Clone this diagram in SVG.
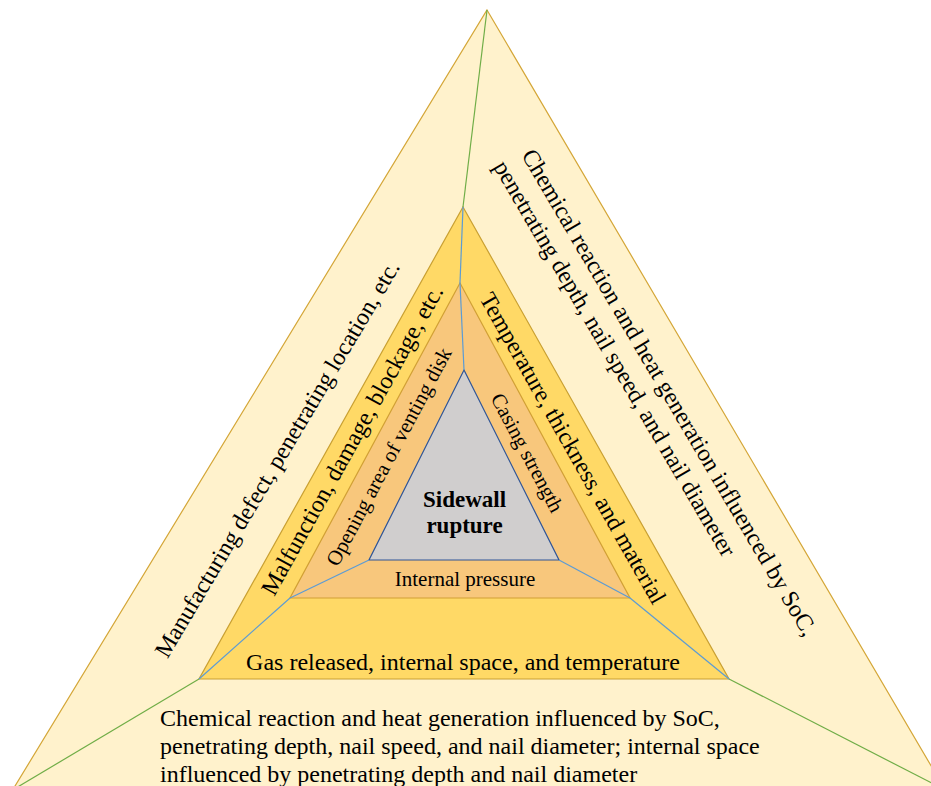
<svg xmlns="http://www.w3.org/2000/svg" width="931" height="786" viewBox="0 0 931 786">
<style>
.t{font-family:"Liberation Serif","Times New Roman",serif;fill:#000;}
.b{font-weight:bold;}
.outer{fill:#FFF2CC;stroke:#D4A637;stroke-width:1.2;}
.band1{fill:#FFD966;stroke:#C9A032;stroke-width:1.2;}
.band2{fill:#F8C77C;stroke:#D1A035;stroke-width:1.2;}
.core{fill:#D0CECE;stroke:#2F5597;stroke-width:1.2;}
.g{stroke:#70AD47;stroke-width:1.2;fill:none;}
.bl{stroke:#5B9BD5;stroke-width:1.2;fill:none;}
</style>
<rect width="931" height="786" fill="#FFFFFF"/>
<g id="outer">
<polygon class="outer" points="487,10 945.3,790 12.6,790"/>
<text class="t" font-size="24" text-anchor="middle" transform="translate(284,463) rotate(-59.3)">Manufacturing defect, penetrating location, etc.</text>
<text class="t" font-size="24" transform="translate(521,155) rotate(59.6)">Chemical reaction and heat generation influenced by SoC,</text>
<text class="t" font-size="24" transform="translate(493,166.5) rotate(59.6)">penetrating depth, nail speed, and nail diameter</text>
<text class="t" font-size="24" x="160" y="726">Chemical reaction and heat generation influenced by SoC,</text>
<text class="t" font-size="24" x="160" y="754">penetrating depth, nail speed, and nail diameter; internal space</text>
<text class="t" font-size="24" x="160" y="782">influenced by penetrating depth and nail diameter</text>
</g>
<g id="band1">
<polygon class="band1" points="463,207 729,679 199,679"/>
<text class="t" font-size="24" text-anchor="middle" transform="translate(359,444) rotate(-61)">Malfunction, damage, blockage, etc.</text>
<text class="t" font-size="24" text-anchor="middle" transform="translate(566,452) rotate(60.5)">Temperature, thickness, and material</text>
<text class="t" font-size="24" text-anchor="middle" x="463" y="670">Gas released, internal space, and temperature</text>
</g>
<g id="band2">
<polygon class="band2" points="460,283 630,598 290,598"/>
<text class="t" font-size="21" text-anchor="middle" transform="translate(395,460) rotate(-62)">Opening area of venting disk</text>
<text class="t" font-size="21" text-anchor="middle" transform="translate(521,456) rotate(62)">Casing strength</text>
<text class="t" font-size="21" text-anchor="middle" x="465" y="586">Internal pressure</text>
</g>
<g id="core">
<polygon class="core" points="464,370 559,560 369,560"/>
<text class="t b" font-size="23" text-anchor="middle" x="464.5" y="507">Sidewall</text>
<text class="t b" font-size="23" text-anchor="middle" x="464.5" y="533">rupture</text>
</g>
<g id="connectors">
<line class="g" x1="487" y1="10" x2="463" y2="207"/>
<line class="g" x1="199" y1="679" x2="12.6" y2="790"/>
<line class="g" x1="729" y1="679" x2="945.3" y2="790"/>
<line class="bl" x1="463" y1="207" x2="460" y2="283"/>
<line class="bl" x1="460" y1="283" x2="464" y2="370"/>
<line class="bl" x1="199" y1="679" x2="290" y2="598"/>
<line class="bl" x1="290" y1="598" x2="369" y2="560"/>
<line class="bl" x1="729" y1="679" x2="630" y2="598"/>
<line class="bl" x1="630" y1="598" x2="559" y2="560"/>
</g>
</svg>
